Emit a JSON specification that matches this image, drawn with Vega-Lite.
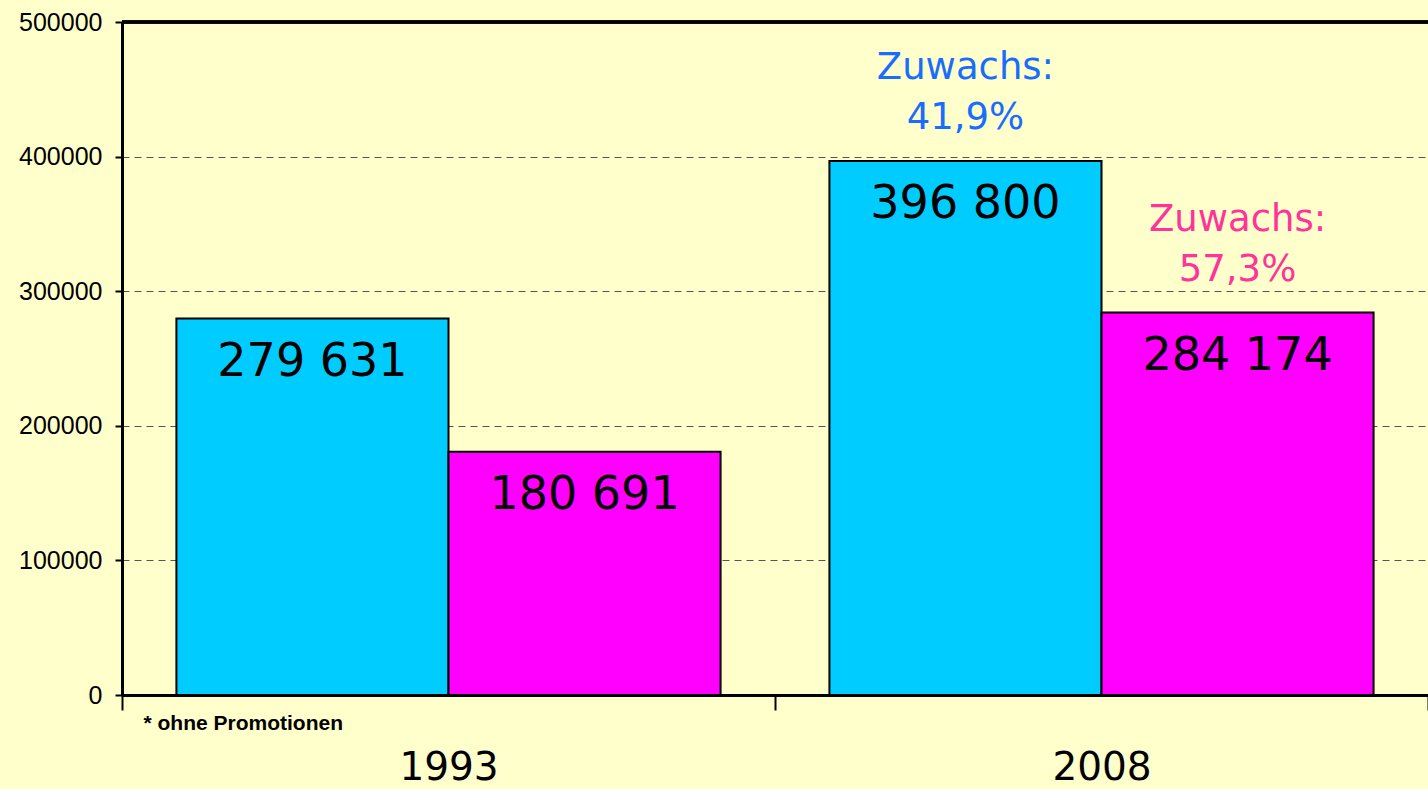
{
  "$schema": "https://vega.github.io/schema/vega-lite/v6.json",
  "width": 1306,
  "height": 673,
  "autosize": {"type": "none"},
  "padding": {"left": 122, "top": 22, "right": 0, "bottom": 94},
  "background": "#FFFFCC",
  "config": {"view": {"stroke": null}},
  "data": {
    "values": [
      {"Jahr": "1993", "Reihe": "1", "Wert": 279631, "Label": "279 631"},
      {"Jahr": "1993", "Reihe": "2", "Wert": 180691, "Label": "180 691"},
      {"Jahr": "2008", "Reihe": "1", "Wert": 396800, "Label": "396 800", "Notiz": ["Zuwachs:", "41,9%"]},
      {"Jahr": "2008", "Reihe": "2", "Wert": 284174, "Label": "284 174", "Notiz": ["Zuwachs:", "57,3%"]}
    ]
  },
  "encoding": {
    "x": {
      "field": "Jahr", "type": "nominal",
      "scale": {"paddingInner": 0, "paddingOuter": 0},
      "axis": {
        "labelAngle": 0, "tickBand": "extent", "tickSize": 15, "tickWidth": 2, "tickColor": "black",
        "domainColor": "black", "domainWidth": 3,
        "labelFont": "DejaVu Sans", "labelFontSize": 39, "labelColor": "black", "labelPadding": 38,
        "title": "* ohne Promotionen", "titleFont": "Liberation Sans", "titleFontWeight": "bold",
        "titleFontSize": 21, "titleColor": "black", "titleX": 21, "titleY": 28,
        "titleAlign": "left", "titleAnchor": "start", "titleBaseline": "middle"
      }
    },
    "xOffset": {"field": "Reihe", "type": "nominal", "scale": {"paddingInner": 0, "paddingOuter": 0.2}},
    "y": {
      "field": "Wert", "type": "quantitative",
      "scale": {"domain": [0, 500000], "nice": false},
      "axis": {
        "values": [0, 100000, 200000, 300000, 400000, 500000], "format": "d", "title": null,
        "labelFont": "Liberation Sans", "labelFontSize": 25, "labelColor": "black", "labelPadding": 13,
        "tickSize": 7, "tickWidth": 2, "tickColor": "black",
        "domainColor": "black", "domainWidth": 3,
        "grid": true, "gridDash": [7, 5], "gridColor": "#555555", "gridWidth": 1
      }
    }
  },
  "layer": [
    {
      "mark": {"type": "bar", "stroke": "black", "strokeWidth": 2},
      "encoding": {
        "color": {"field": "Reihe", "type": "nominal", "scale": {"range": ["#00CCFF", "#FF00FF"]}, "legend": null}
      }
    },
    {
      "mark": {"type": "text", "font": "DejaVu Sans", "fontSize": 46, "baseline": "middle", "align": "center", "dy": 43, "color": "black"},
      "encoding": {"text": {"field": "Label"}}
    },
    {
      "transform": [{"filter": "datum.Notiz != null"}],
      "mark": {"type": "text", "font": "DejaVu Sans", "fontSize": 37, "baseline": "middle", "align": "center", "dy": -93, "lineHeight": 50},
      "encoding": {
        "text": {"field": "Notiz"},
        "color": {"condition": {"test": "datum.Reihe === '1'", "value": "#1A6CFF"}, "value": "#FF3399"}
      }
    },
    {
      "mark": {"type": "rule", "color": "black", "strokeWidth": 3},
      "encoding": {"y": {"datum": 500000}, "x": null, "xOffset": null}
    }
  ]
}
